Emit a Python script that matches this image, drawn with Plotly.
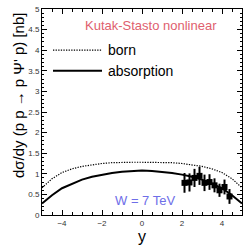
import plotly.graph_objects as go

# theory curves (symmetric in y)
y_grid = [-5, -4.5, -4, -3.5, -3, -2.5, -2, -1.5, -1, -0.5, 0, 0.5, 1, 1.5, 2, 2.5, 3, 3.5, 4, 4.5, 5]
born = [0.66, 0.88, 1.03, 1.12, 1.18, 1.22, 1.25, 1.27, 1.28, 1.28, 1.28, 1.28, 1.28, 1.27, 1.25, 1.22, 1.18, 1.12, 1.03, 0.88, 0.66]
absorption = [0.28, 0.48, 0.65, 0.76, 0.86, 0.93, 0.98, 1.02, 1.05, 1.07, 1.08, 1.07, 1.05, 1.02, 0.98, 0.93, 0.86, 0.76, 0.65, 0.48, 0.28]

# LHCb data
data_y = [2.125, 2.375, 2.625, 2.875, 3.125, 3.375, 3.625, 3.875, 4.125, 4.375]
data_val = [0.78, 0.79, 0.90, 0.95, 0.78, 0.80, 0.72, 0.60, 0.68, 0.45]
data_err = [0.24, 0.22, 0.22, 0.22, 0.2, 0.19, 0.17, 0.16, 0.18, 0.18]

legend_names = ["born", "absorption"]
legend_y = [4.0, 3.5]
DOT = "1.3px,1.3px"
legend_dash = [DOT, "solid"]
legend_width = [1.2, 2]

FONT = "Liberation Sans, Arial"

fig = go.Figure()
fig.add_trace(go.Scatter(x=y_grid, y=born, mode="lines", name="born",
                         line=dict(color="black", width=1.2, dash=DOT)))
fig.add_trace(go.Scatter(x=y_grid, y=absorption, mode="lines", name="absorption",
                         line=dict(color="black", width=2)))
fig.add_trace(go.Scatter(x=data_y, y=data_val, mode="markers",
                         marker=dict(symbol="square", size=6, color="black"),
                         error_y=dict(type="data", array=data_err, color="black", thickness=2, width=0)))

# manual legend
for name, ly, dash, w in zip(legend_names, legend_y, legend_dash, legend_width):
    fig.add_shape(type="line", xref="x", yref="y", x0=-4.45, x1=-2.0, y0=ly, y1=ly,
                  line=dict(color="black", width=w, dash=dash))
    fig.add_annotation(x=-1.8, y=ly, xref="x", yref="y", text=name, xanchor="left",
                       showarrow=False, font=dict(family=FONT, size=14, color="black"))

fig.add_annotation(x=0.45, y=4.61, xref="x", yref="y", text="Kutak-Stasto nonlinear",
                   showarrow=False, font=dict(family=FONT, size=13, color="#e0606e"))
fig.add_annotation(x=0.15, y=0.36, xref="x", yref="y", text="W = 7 TeV",
                   showarrow=False, font=dict(family=FONT, size=13, color="#6e6ee8"))
# y-axis title
fig.add_annotation(x=-0.12, y=2.91, xref="paper", yref="y", text="dσ/dy (p p → p Ψ' p) [nb]",
                   xanchor="center", yanchor="middle",
                   textangle=-90, showarrow=False, font=dict(family=FONT, size=15, color="black"))

fig.update_layout(
    width=243, height=246,
    margin=dict(l=42, r=1, t=9, b=31),
    plot_bgcolor="white", paper_bgcolor="white",
    showlegend=False,
    font=dict(family=FONT, color="black"),
    xaxis=dict(range=[-5, 5], showgrid=False, zeroline=False, showline=True, linecolor="black",
               mirror="allticks", ticks="inside", ticklen=5, tickcolor="black", dtick=2, tick0=0,
               tickfont=dict(size=8, color="#333"),
               minor=dict(dtick=0.5, ticks="inside", ticklen=3, tickcolor="black"),
               title=dict(text="y", font=dict(size=16), standoff=4)),
    yaxis=dict(range=[0, 5], showgrid=False, zeroline=False, showline=True, linecolor="black",
               mirror="allticks", ticks="inside", ticklen=5, tickcolor="black", dtick=0.5, tick0=0,
               tickfont=dict(size=8, color="#333"),
               minor=dict(dtick=0.1, ticks="inside", ticklen=2, tickcolor="black")),
)

fig.write_html("out.html", post_script="document.body.style.margin='0';",
               config={"displayModeBar": False})
